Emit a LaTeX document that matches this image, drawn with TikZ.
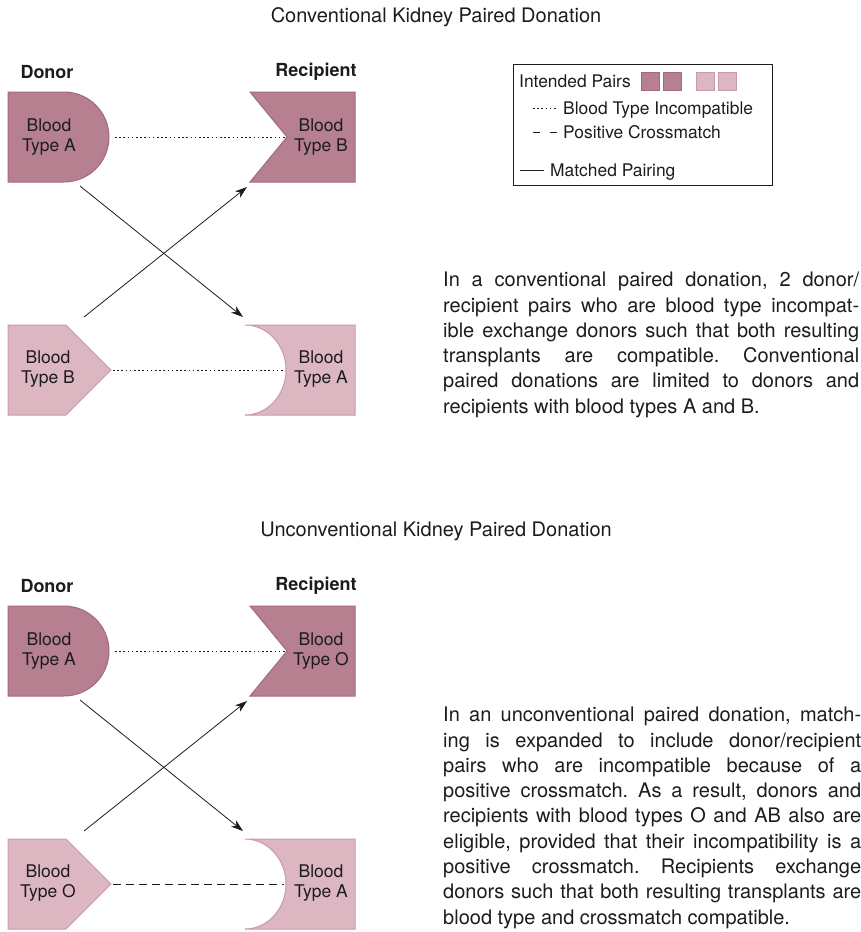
\documentclass[tikz,border=0pt]{standalone}
\usepackage{fontspec}
\setmainfont{TeX Gyre Heros}
\usepackage{tikz}
\usetikzlibrary{arrows.meta}
\definecolor{pairdark}{HTML}{B78091}
\definecolor{pairdarkline}{HTML}{A26A7D}
\definecolor{pairlight}{HTML}{DCB6C1}
\definecolor{pairlightline}{HTML}{C99AA8}
\definecolor{ink}{HTML}{1C1C1C}
\tikzstyle{dark}=[fill=pairdark, draw=pairdarkline, line width=1pt]
\tikzstyle{light}=[fill=pairlight, draw=pairlightline, line width=1pt]
\tikzstyle{blood}=[align=center, font=\fontsize{17.5}{20}\selectfont, text=ink, inner sep=0pt]
\tikzstyle{head}=[font=\fontsize{18}{20}\selectfont\bfseries, text=ink, inner sep=0pt]
\tikzstyle{legtext}=[font=\fontsize{17.4}{20}\selectfont, text=ink, inner sep=0pt, anchor=base west]
\tikzstyle{para}=[font=\fontsize{20}{25.3}\selectfont, text=ink, inner sep=0pt, align=justify, anchor=north west]
\tikzstyle{dotline}=[ink, line width=0.8pt, dash pattern=on 1.6pt off 2.6pt]
\tikzstyle{dashline}=[ink, line width=0.9pt, dash pattern=on 8pt off 5pt]
\tikzstyle{match}=[ink, line width=0.8pt, -{Stealth[length=12pt,width=8pt,inset=3.5pt]}]

\begin{document}
\frenchspacing
\begin{tikzpicture}[x=1pt,y=-1pt]
\useasboundingbox (0,0) rectangle (861,932);
\tolerance=10000
\foreach \s/\dy/\bt/\pat/\ttl in {1/0/B/dotline/Conventional,2/514/O/dashline/Unconventional}{
  \begin{scope}[yshift=-\dy pt]
    \node [font=\fontsize{20}{24}\selectfont, text=ink] (title\s) at (436,17) {\ttl\ Kidney Paired Donation};
    \node [head] (donor\s) at (47,72) {Donor};
    \node [head] (recip\s) at (316,72) {Recipient};
    % the four pair shapes
    \draw [dark] (8,92) -- (64,92) arc (-90:0:45) coordinate (dAe\s) arc (0:90:45) -- (8,182) -- cycle;
    \draw [dark] (250,92) -- (355,92) -- (355,182) -- (250,182) -- (287,137) coordinate (rBn\s) -- cycle;
    \draw [light] (8,325) -- (66,325) -- (111,370) coordinate (dBt\s) -- (66,415) -- (8,415) -- cycle;
    \draw [light] (245,325) -- (355,325) -- (355,415) -- (245,415) arc [start angle=90, end angle=0, x radius=41, y radius=45] coordinate (rAa\s) arc [start angle=0, end angle=-90, x radius=41, y radius=45] -- cycle;
    \node [blood] (donA\s) at (49,137) {Blood\\Type A};
    \node [blood] (recB\s) at (321,137) {Blood\\Type \bt};
    \node [blood] (donB\s) at (48,369) {Blood\\Type \bt};
    \node [blood] (recA\s) at (321,369) {Blood\\Type A};
    % incompatible pairs
    \draw [dotline, shorten <=6pt] (dAe\s) -- (rBn\s);
    \draw [\pat, shorten <=2pt, shorten >=2pt] (dBt\s) -- (rAa\s);
    % matched pairings
    \coordinate (m1a\s) at (80,186);
    \coordinate (m1b\s) at (243,317);
    \coordinate (m2a\s) at (84,317);
    \coordinate (m2b\s) at (247,187);
    \draw [match] (m1a\s) -- (m1b\s);
    \draw [match] (m2a\s) -- (m2b\s);
  \end{scope}
}
% legend
\node [draw=ink, line width=0.8pt, minimum width=259pt, minimum height=121pt, anchor=north west, inner sep=0pt] (legend) at (513,64) {};
\node [legtext] (lgpairs) at (519,87.5) {Intended Pairs};
\node [dark, minimum size=18pt, inner sep=0pt, anchor=north west] (sq1) at (641,72) {};
\node [dark, minimum size=18pt, inner sep=0pt, anchor=north west] (sq2) at (663,72) {};
\node [light, minimum size=18pt, inner sep=0pt, anchor=north west] (sq3) at (696,72) {};
\node [light, minimum size=18pt, inner sep=0pt, anchor=north west] (sq4) at (718,72) {};
\draw [dotline] (533,108) -- (557,108);
\node [legtext] (lgdot) at (563,114.5) {Blood Type Incompatible};
\draw [ink, line width=0.9pt, dash pattern=on 7pt off 10pt] (533,132) -- (557,132);
\node [legtext] (lgdash) at (563,138.5) {Positive Crossmatch};
\draw [ink, line width=0.9pt] (520,170) -- (544,170);
\node [legtext] (lgmatch) at (550,176.5) {Matched Pairing};
% explanations
\node [para, text width=416pt] (txt1) at (443,272) {In a conventional paired donation, 2 donor/\linebreak recipient pairs who are blood type incompat-\linebreak ible exchange donors such that both resulting\linebreak transplants are compatible. Conventional\linebreak paired donations are limited to donors and\linebreak recipients with blood types A and B.};
\node [para, text width=418pt] (txt2) at (443,707) {In an unconventional paired donation, match-\linebreak ing is expanded to include donor/recipient\linebreak pairs who are incompatible because of a\linebreak positive crossmatch. As a result, donors and\linebreak recipients with blood types O and AB also are\linebreak eligible, provided that their incompatibility is a\linebreak positive crossmatch. Recipients exchange\linebreak donors such that both resulting transplants are\linebreak blood type and crossmatch compatible.};
\end{tikzpicture}
\end{document}
